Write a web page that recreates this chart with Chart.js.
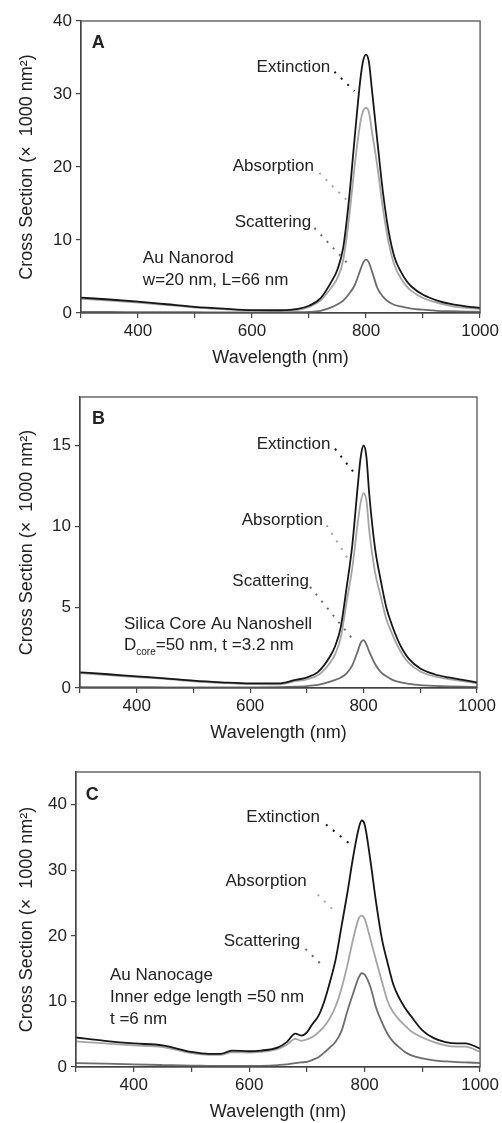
<!DOCTYPE html>
<html>
<head>
<meta charset="utf-8">
<script src="https://cdn.jsdelivr.net/npm/chart.js@4.4.1/dist/chart.umd.min.js"></script>
<style>
  html, body { margin: 0; padding: 0; background: #fff; overflow: hidden; }
  .panel { position: absolute; left: 0; width: 502px; }
</style>
</head>
<body>
<div class="panel" style="top:0;height:369px"><canvas id="chartA"></canvas></div>
<div class="panel" style="top:369px;height:375px"><canvas id="chartB"></canvas></div>
<div class="panel" style="top:744px;height:379px"><canvas id="chartC"></canvas></div>
<script>
// Wavelength grid (nm) used for panels A and B
const wavelengthAB = [300, 350, 400, 450, 500, 550, 600, 650, 680, 700, 720, 740, 750, 760, 770, 780, 790, 795, 800, 805, 810, 820, 830, 840, 850, 860, 870, 880, 900, 925, 950, 975, 1000];

// Panel A - Au nanorod (x 1000 nm^2)
const extA = [2.1, 1.85, 1.55, 1.2, 0.85, 0.6, 0.4, 0.38, 0.55, 1.0, 2.0, 4.4, 6.0, 9.0, 15.5, 24.0, 32.0, 34.6, 35.4, 34.4, 30.8, 23.4, 16.3, 11.0, 7.6, 5.8, 4.5, 3.6, 2.5, 1.7, 1.2, 0.9, 0.7];
const absA = [1.95, 1.7, 1.43, 1.1, 0.75, 0.52, 0.32, 0.28, 0.43, 0.85, 1.7, 3.6, 4.8, 7.3, 12.9, 20.2, 26.1, 27.7, 28.1, 27.5, 25.0, 20.0, 14.1, 9.5, 6.5, 4.9, 3.75, 3.0, 2.05, 1.4, 0.95, 0.7, 0.55];
const scaA = [0.15, 0.15, 0.12, 0.1, 0.1, 0.08, 0.08, 0.1, 0.12, 0.15, 0.3, 0.8, 1.2, 1.7, 2.6, 3.8, 5.9, 6.9, 7.3, 6.9, 5.8, 3.4, 2.2, 1.5, 1.1, 0.9, 0.75, 0.6, 0.45, 0.3, 0.25, 0.2, 0.15];

// Panel B - silica core Au nanoshell
const extB = [0.97, 0.85, 0.72, 0.6, 0.45, 0.35, 0.28, 0.28, 0.5, 0.65, 1.0, 1.9, 2.6, 3.8, 6.2, 8.8, 12.6, 14.3, 15.0, 14.3, 12.0, 8.7, 6.7, 5.0, 3.9, 3.0, 2.3, 1.8, 1.2, 0.85, 0.65, 0.5, 0.35];
const absB = [0.92, 0.8, 0.67, 0.56, 0.41, 0.31, 0.24, 0.23, 0.42, 0.53, 0.8, 1.52, 2.1, 3.15, 5.3, 7.4, 10.3, 11.5, 12.05, 11.6, 9.75, 7.2, 5.7, 4.28, 3.38, 2.6, 1.98, 1.54, 1.02, 0.72, 0.55, 0.42, 0.28];
const scaB = [0.05, 0.05, 0.05, 0.04, 0.04, 0.04, 0.04, 0.05, 0.08, 0.12, 0.2, 0.38, 0.5, 0.65, 0.9, 1.4, 2.3, 2.8, 2.96, 2.7, 2.25, 1.5, 1.0, 0.72, 0.52, 0.4, 0.32, 0.26, 0.18, 0.13, 0.1, 0.08, 0.07];

// Panel C - Au nanocage (own grid, it has a few more bumps)
const wavelengthC = [300, 350, 400, 450, 500, 530, 550, 570, 600, 620, 650, 665, 680, 690, 700, 710, 720, 730, 740, 750, 760, 770, 780, 790, 795, 800, 810, 820, 830, 840, 850, 860, 870, 880, 900, 920, 940, 960, 975, 990, 1000];
const extC = [4.5, 4.0, 3.6, 3.3, 2.3, 2.0, 2.0, 2.5, 2.4, 2.5, 3.0, 3.8, 5.1, 4.8, 5.3, 6.6, 7.8, 10.0, 13.0, 16.5, 21.5, 26.5, 32.0, 36.5, 37.6, 37.0, 31.5, 25.0, 19.5, 15.8, 12.5, 10.5, 9.0, 7.8, 5.6, 4.4, 3.8, 3.6, 3.6, 3.2, 2.8];
const absC = [3.9, 3.6, 3.3, 3.05, 2.1, 1.85, 1.85, 2.25, 2.2, 2.3, 2.75, 3.4, 4.3, 4.0, 4.2, 4.6, 5.3, 6.2, 7.5, 9.3, 12.0, 15.5, 19.5, 22.7, 23.1, 22.6, 19.5, 16.2, 13.0, 10.0, 8.3, 7.2, 6.3, 5.5, 4.5, 3.8, 3.3, 3.1, 3.1, 2.7, 2.3];
const scaC = [0.6, 0.5, 0.4, 0.3, 0.2, 0.18, 0.15, 0.15, 0.15, 0.18, 0.3, 0.4, 0.6, 0.7, 0.8, 1.1, 1.5, 2.2, 3.0, 3.9, 5.5, 8.5, 11.2, 13.7, 14.3, 14.1, 12.2, 9.0, 6.8, 5.0, 3.8, 3.0, 2.3, 1.8, 1.3, 1.0, 0.85, 0.75, 0.7, 0.65, 0.6];

// Tick labels on the wavelength axis (minor ticks in between have no label)
const xTickLabels = [400, 600, 800, 1000];

const FONT = '"Liberation Sans", Arial, Helvetica, sans-serif';
const TEXT = '#222';
const AXIS = '#444';
const COLORS = { ext: '#161616', abs: '#a4a4a4', sca: '#6c6c6c' };

Chart.defaults.font.family = FONT;
Chart.defaults.color = TEXT;

// Draws the box frame, the panel letter, the text labels and the dotted leaders
const panelDecor = {
  id: 'panelDecor',
  afterDraw(chart, args, opts) {
    const { ctx, chartArea: a, scales: { x, y } } = chart;
    ctx.save();
    ctx.strokeStyle = AXIS;
    ctx.lineWidth = 1.2;
    ctx.strokeRect(a.left, a.top, a.right - a.left, a.bottom - a.top);

    ctx.fillStyle = TEXT;
    ctx.textAlign = 'left';
    ctx.textBaseline = 'alphabetic';
    ctx.font = 'bold 18px ' + FONT;
    ctx.fillText(opts.letter.text, x.getPixelForValue(opts.letter.x), y.getPixelForValue(opts.letter.y));

    opts.labels.forEach(l => {
      let px = x.getPixelForValue(l.x);
      const py = y.getPixelForValue(l.y);
      const parts = l.parts || [{ text: l.text }];
      parts.forEach(p => {
        ctx.font = (p.sub ? '10px ' : '17px ') + FONT;
        ctx.fillText(p.text, px, py + (p.sub ? 5 : 0));
        px += ctx.measureText(p.text).width;
      });
    });

    opts.leaders.forEach(d => {
      ctx.beginPath();
      ctx.strokeStyle = d.color;
      ctx.lineWidth = 2;
      ctx.setLineDash([2, 7]);
      ctx.moveTo(x.getPixelForValue(d.from[0]), y.getPixelForValue(d.from[1]));
      ctx.lineTo(x.getPixelForValue(d.to[0]), y.getPixelForValue(d.to[1]));
      ctx.stroke();
    });
    ctx.restore();
  }
};

function toPoints(wl, vals) {
  return wl.map((w, i) => ({ x: w, y: vals[i] }));
}

function line(label, data, color, order) {
  return {
    label, data, order,
    borderColor: color,
    borderWidth: 1.8,
    pointRadius: 0,
    fill: false,
    cubicInterpolationMode: 'monotone'
  };
}

function makePanel(id, wl, ext, abs, sca, yMax, yStep, box, decor) {
  const ctx = document.getElementById(id).getContext('2d');
  return new Chart(ctx, {
    type: 'line',
    data: {
      datasets: [
        line('Extinction', toPoints(wl, ext), COLORS.ext, 0),
        line('Absorption', toPoints(wl, abs), COLORS.abs, 1),
        line('Scattering', toPoints(wl, sca), COLORS.sca, 2)
      ]
    },
    options: {
      responsive: true,
      maintainAspectRatio: false,
      animation: false,
      layout: { padding: { top: box.top, right: box.right, left: 0, bottom: 0 } },
      plugins: { legend: { display: false }, tooltip: { enabled: false }, panelDecor: decor },
      scales: {
        x: {
          type: 'linear', min: 300, max: 1000,
          ticks: {
            stepSize: 100, autoSkip: false, maxRotation: 0, padding: 3,
            font: { size: 17 }, color: TEXT,
            callback: v => xTickLabels.includes(v) ? String(v) : ''
          },
          grid: { drawOnChartArea: false, drawTicks: true, tickLength: 5, color: AXIS, lineWidth: 1.2 },
          border: { display: true, color: AXIS, width: 1.2 },
          title: { display: true, text: 'Wavelength (nm)', font: { size: 18 }, color: TEXT, padding: { top: 0, bottom: 0 } },
          afterFit: s => { s.height = 56; }
        },
        y: {
          min: 0, max: yMax,
          ticks: { stepSize: yStep, includeBounds: false, padding: 4, font: { size: 17 }, color: TEXT },
          grid: { drawOnChartArea: false, drawTicks: true, tickLength: 5, color: AXIS, lineWidth: 1.2 },
          border: { display: true, color: AXIS, width: 1.2 },
          title: { display: true, text: 'Cross Section (\u00d7  1000 nm\u00b2)', font: { size: 18 }, color: TEXT, padding: { top: 16, bottom: 0 } },
          afterFit: s => { s.width = box.left; }
        }
      }
    },
    plugins: [panelDecor]
  });
}

makePanel('chartA', wavelengthAB, extA, absA, scaA, 40, 10, { top: 21, right: 20, left: 81 }, {
  letter: { text: 'A', x: 319, y: 36.3 },
  labels: [
    { text: 'Extinction', x: 608, y: 33.0 },
    { text: 'Absorption', x: 566, y: 19.4 },
    { text: 'Scattering', x: 569.5, y: 11.8 },
    { text: 'Au Nanorod', x: 408.5, y: 6.8 },
    { text: 'w=20 nm, L=66 nm', x: 408.5, y: 3.84 }
  ],
  leaders: [
    { from: [744.5, 33.05], to: [779.5, 30.4], color: COLORS.ext },
    { from: [718, 19.2], to: [770.8, 15.1], color: COLORS.abs },
    { from: [709.5, 11.64], to: [767, 6.85], color: COLORS.sca }
  ]
});

makePanel('chartB', wavelengthAB, extB, absB, scaB, 18, 5, { top: 28, right: 25, left: 80 }, {
  letter: { text: 'B', x: 321, y: 16.3 },
  labels: [
    { text: 'Extinction', x: 611.6, y: 14.8 },
    { text: 'Absorption', x: 585, y: 10.1 },
    { text: 'Scattering', x: 568.6, y: 6.3 },
    { text: 'Silica Core Au Nanoshell', x: 377.6, y: 3.68 },
    { parts: [{ text: 'D' }, { text: 'core', sub: true }, { text: '=50 nm, t =3.2 nm' }], x: 377.6, y: 2.35 }
  ],
  leaders: [
    { from: [749.6, 14.8], to: [788, 13.1], color: COLORS.ext },
    { from: [735, 10.06], to: [776, 7.8], color: COLORS.abs },
    { from: [705.6, 6.25], to: [779, 3.1], color: COLORS.sca }
  ]
});

makePanel('chartC', wavelengthC, extC, absC, scaC, 45, 10, { top: 28, right: 21, left: 76 }, {
  letter: { text: 'C', x: 317, y: 40.8 },
  labels: [
    { text: 'Extinction', x: 595, y: 37.3 },
    { text: 'Absorption', x: 559, y: 27.55 },
    { text: 'Scattering', x: 555.8, y: 18.4 },
    { text: 'Au Nanocage', x: 358.8, y: 13.2 },
    { text: 'Inner edge length =50 nm', x: 358.8, y: 9.9 },
    { text: 't =6 nm', x: 358.8, y: 6.6 }
  ],
  leaders: [
    { from: [733, 37.0], to: [779, 33.7], color: COLORS.ext },
    { from: [718.8, 26.3], to: [750.5, 23.5], color: COLORS.abs },
    { from: [697.5, 18.0], to: [730, 15.2], color: COLORS.sca }
  ]
});
</script>
</body>
</html>
